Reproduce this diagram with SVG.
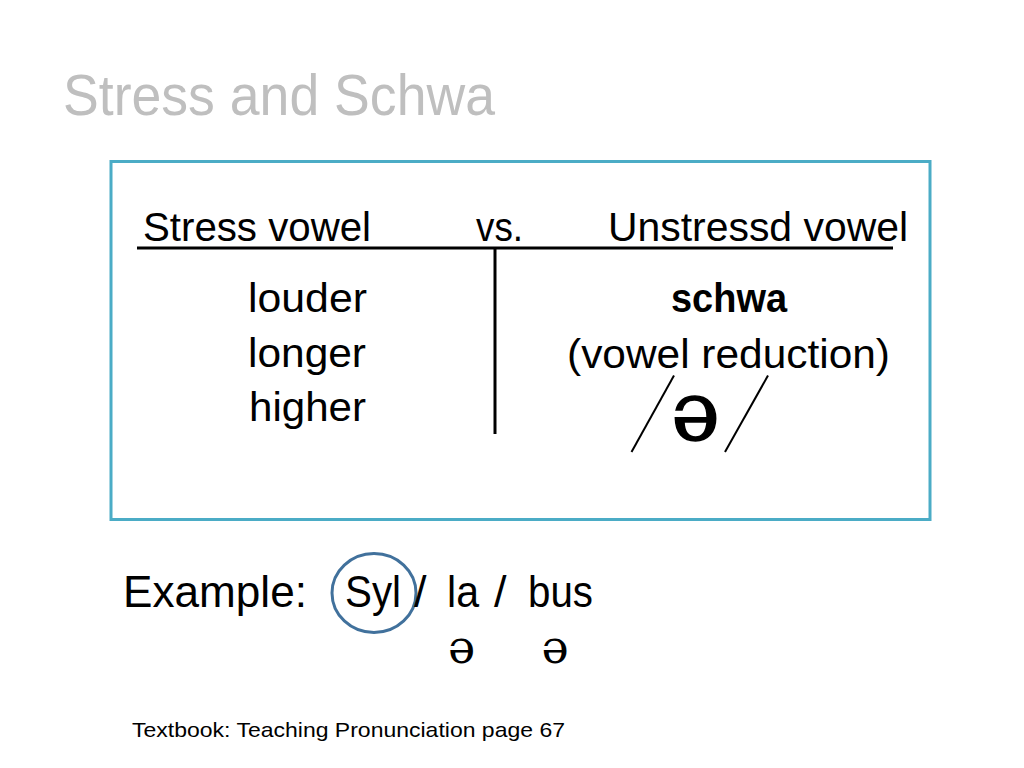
<svg xmlns="http://www.w3.org/2000/svg" width="1024" height="768" viewBox="0 0 1024 768">
  <style>
    .t { font-family: "Liberation Sans", Arial, sans-serif; fill: #000; }
    .body { font-size: 40px; }
    .ipa { font-family: "DejaVu Serif", "Liberation Serif", serif; fill: #000; }
    .ln { stroke: #000; fill: none; }
  </style>
  <rect x="0" y="0" width="1024" height="768" fill="#fff"/>
  <g id="title">
    <text class="t" x="63" y="115" font-size="58" style="fill:#BFBFBF" textLength="432" lengthAdjust="spacingAndGlyphs">Stress and Schwa</text>
  </g>
  <g id="box">
    <rect x="111" y="161.5" width="819" height="358" fill="none" stroke="#4BACC6" stroke-width="3"/>
  </g>
  <g id="header">
    <text class="t body" x="143" y="241" textLength="228" lengthAdjust="spacingAndGlyphs">Stress vowel</text>
    <text class="t body" x="476" y="241" textLength="47" lengthAdjust="spacingAndGlyphs">vs.</text>
    <text class="t body" x="608" y="241" textLength="300" lengthAdjust="spacingAndGlyphs">Unstressd vowel</text>
  </g>
  <g id="connectors">
    <line class="ln" x1="137" y1="248" x2="893" y2="248" stroke-width="3"/>
    <line class="ln" x1="495" y1="248" x2="495" y2="434" stroke-width="3"/>
    <line class="ln" x1="631.5" y1="452" x2="674" y2="375.5" stroke-width="2"/>
    <line class="ln" x1="725" y1="452" x2="768" y2="375.5" stroke-width="2"/>
    <ellipse cx="374" cy="593" rx="42" ry="39.5" fill="none" stroke="#41719C" stroke-width="3"/>
  </g>
  <g id="stressed">
    <text class="t body" x="248" y="312" textLength="119" lengthAdjust="spacingAndGlyphs">louder</text>
    <text class="t body" x="248" y="367" textLength="118" lengthAdjust="spacingAndGlyphs">longer</text>
    <text class="t body" x="249" y="421" textLength="117" lengthAdjust="spacingAndGlyphs">higher</text>
  </g>
  <g id="unstressed">
    <text class="t body" x="671" y="312" font-weight="bold" textLength="116" lengthAdjust="spacingAndGlyphs">schwa</text>
    <text class="t body" x="567" y="368" textLength="323" lengthAdjust="spacingAndGlyphs">(vowel reduction)</text>
    <text class="ipa" x="695.5" y="440" font-size="82" text-anchor="middle" stroke="#000" stroke-width="1.5">ə</text>
  </g>
  <g id="example">
    <text class="t" x="123" y="607" font-size="45" textLength="184" lengthAdjust="spacingAndGlyphs">Example:</text>
    <text class="t" x="345" y="607" font-size="45" textLength="56" lengthAdjust="spacingAndGlyphs">Syl</text>
    <text class="t" x="414" y="607" font-size="45">/</text>
    <text class="t" x="447" y="607" font-size="45" textLength="32" lengthAdjust="spacingAndGlyphs">la</text>
    <text class="t" x="494" y="607" font-size="45">/</text>
    <text class="t" x="528" y="607" font-size="45" textLength="65" lengthAdjust="spacingAndGlyphs">bus</text>
    <text class="ipa" x="461.5" y="663" font-size="46" text-anchor="middle">ə</text>
    <text class="ipa" x="555" y="663" font-size="46" text-anchor="middle">ə</text>
  </g>
  <g id="footer">
    <text class="t" x="132" y="737" font-size="21" textLength="433" lengthAdjust="spacingAndGlyphs">Textbook: Teaching Pronunciation page 67</text>
  </g>
</svg>
